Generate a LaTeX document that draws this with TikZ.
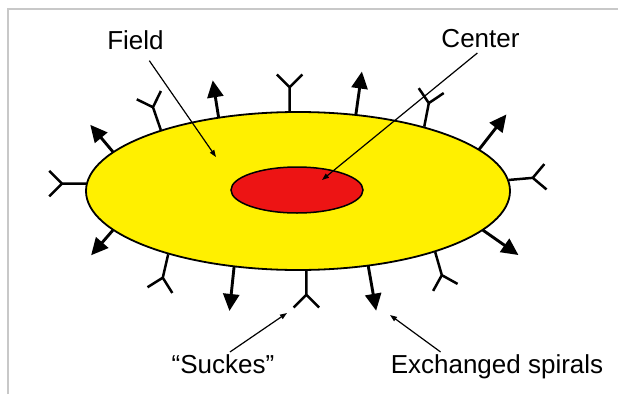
\documentclass[tikz,border=0pt]{standalone}
\usepackage{fontspec}
\setmainfont{Liberation Sans}
\usepackage{tikz}
\usetikzlibrary{shapes.geometric, arrows.meta}
\definecolor{fieldcolor}{RGB}{255,240,0}
\definecolor{corecolor}{RGB}{237,20,20}
\definecolor{framecolor}{RGB}{200,200,200}
\tikzset{
    fieldell/.style={ellipse, draw=black, line width=1.8pt,
        fill=fieldcolor,
        minimum width=424pt,
        minimum height=158pt,
        inner sep=0pt},
    coreell/.style={ellipse, draw=black, line width=1.5pt,
        fill=corecolor,
        minimum width=132pt,
        minimum height=46pt,
        inner sep=0pt},
    spiral/.style={-{Triangle[length=17pt,width=16pt]}, line width=2.9pt, shorten <=-1pt},
    sucker/.style={line width=2.5pt, shorten <=-1pt},
    pointer/.style={-{Triangle[length=7pt,width=5pt]}, line width=1.2pt},
    lbl/.style={font=\fontsize{26}{30}\selectfont, anchor=base, inner sep=2pt}
}

\begin{document}
\begin{tikzpicture}[x=1pt, y=1pt]
\useasboundingbox (-298,-203) rectangle (320,191);

% Frame
\draw[framecolor, line width=1.5pt] (-290,-203) -- (-290,182) -- (320,182);

% Field
\node[fieldell] (field) at (0,0) {};

% Suckers
\draw[sucker] (field.178) -- ++(180:24) coordinate (y1) -- ++(225:18) (y1) -- ++(135:18);
\draw[sucker] (field.156) -- ++(109:24) coordinate (y3) -- ++(154:18) (y3) -- ++(64:18);
\draw[sucker] (field.96) -- ++(90:24) coordinate (y5) -- ++(135:18) (y5) -- ++(45:18);
\draw[sucker] (field.27) -- ++(79:24) coordinate (y7) -- ++(124:18) (y7) -- ++(34:18);
\draw[sucker] (field.3) -- ++(5:24) coordinate (y9) -- ++(50:18) (y9) -- ++(-40:18);
\draw[sucker] (field.-24) -- ++(-74:24) coordinate (y11) -- ++(-29:18) (y11) -- ++(-119:18);
\draw[sucker] (field.-84) -- ++(-90:24) coordinate (y13) -- ++(-45:18) (y13) -- ++(-135:18);
\draw[sucker] (field.-154) -- ++(-103:24) coordinate (y15) -- ++(-58:18) (y15) -- ++(-148:18);

% Spirals
\draw[spiral] (field.168) -- ++(130:35);
\draw[spiral] (field.137) -- ++(99:37);
\draw[spiral] (field.53) -- ++(82:43);
\draw[spiral] (field.13) -- ++(52:44);
\draw[spiral] (field.-12) -- ++(-35:43);
\draw[spiral] (field.-47) -- ++(-80:45);
\draw[spiral] (field.-130) -- ++(-96:44);
\draw[spiral] (field.-168) -- ++(-131:33);

% Center
\node[coreell] (core) at (-1,1) {};

% Labels
\node[lbl] (fieldlbl) at (-162.5,141) {Field};
\node[lbl] (corelbl) at (182.5,143) {Center};
\node[lbl] (suckeslbl) at (-75,-182) {“Suckes”};
\node[lbl] (spirallbl) at (199,-182) {Exchanged spirals};

\coordinate (fieldpt) at (-82,34);
\coordinate (corept) at (24,11);
\coordinate (suckpt) at (-11,-122);
\coordinate (spiralpt) at (92,-124);

\draw[pointer, shorten <=10pt] (fieldlbl) -- (fieldpt);
\draw[pointer, shorten <=4pt] (corelbl.south) -- (corept);
\draw[pointer] ([xshift=7pt]suckeslbl.north) -- (suckpt);
\draw[pointer] ([xshift=52pt]spirallbl.north west) -- (spiralpt);

\end{tikzpicture}
\end{document}
